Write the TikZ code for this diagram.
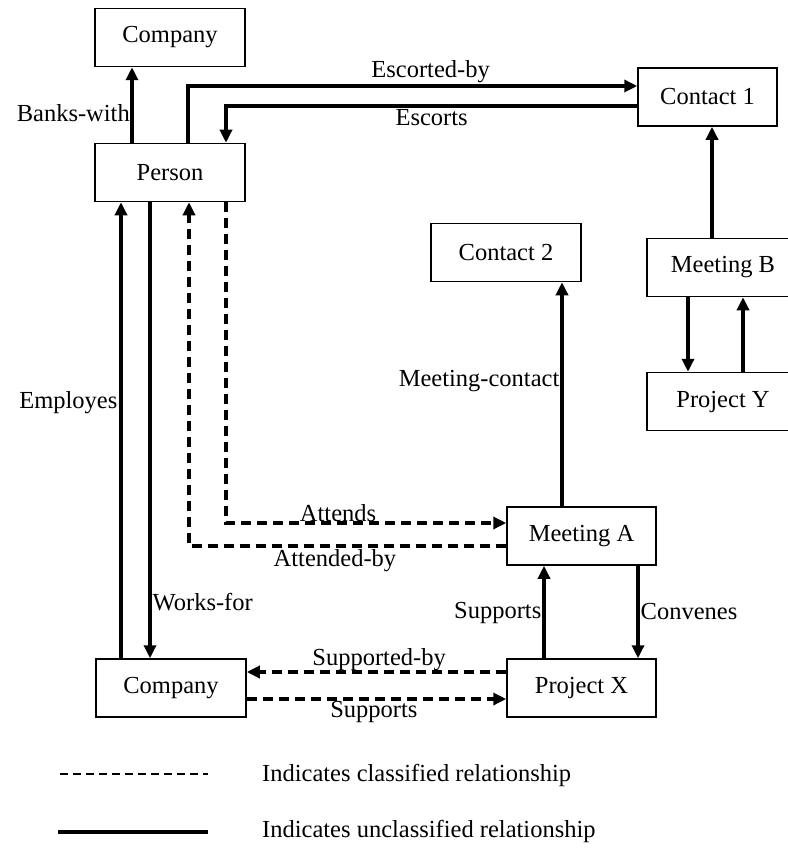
\documentclass[tikz,border=0pt]{standalone}
\usepackage{fontspec}
\setmainfont{Liberation Serif}
\usetikzlibrary{arrows.meta}
\newcommand\diagfont{\fontsize{24.5}{28}\selectfont}
\begin{document}
\begin{tikzpicture}[x=1pt,y=-1pt,
  box/.style={draw, line width=1.5pt, minimum width=#1, minimum height=58pt,
    inner sep=0pt, font=\diagfont},
  box/.default=150pt,
  tip/.style={-{Triangle[length=13pt,width=12pt]}},
  rel/.style={line width=3.4pt, tip},
  cls/.style={line width=3.4pt, dash pattern=on 10pt off 6pt, tip},
  lab/.style={font=\diagfont, inner sep=2pt},
]
\useasboundingbox (0,0) rectangle (787,848);

% entities
\node[box] (company1) at (170,37.5) {Company};
\node[box] (person)   at (170,172.5) {Person};
\node[box=139pt] (contact1) at (707.5,97) {Contact 1};
\node[box] (contact2) at (506,252.5) {Contact 2};
\node[box=152pt] (meetingB) at (723,267.5) {Meeting B};
\node[box=152pt] (projectY) at (723,401.5) {Project Y};
\node[box=149pt] (meetingA) at (581.5,536) {Meeting A};
\node[box=149pt] (projectX) at (581.5,688) {Project X};
\node[box] (company2) at (171,688) {Company};

% unclassified relationships
\draw[rel] ([xshift=-38pt]person.north) -- ([xshift=-38pt]person.north |- company1.south)
  node[lab, pos=0.39, anchor=east, inner sep=0.5pt] {Banks-with};
\draw[rel] ([xshift=18pt]person.north) |- ([yshift=11pt]contact1.west)
  node[lab, pos=0.77, above=0pt] {Escorted-by};
\draw[rel] ([yshift=-9pt]contact1.west) -| ([xshift=56pt]person.north)
  node[lab, pos=0.25, below=0pt] {Escorts};
\draw[rel] ([xshift=-11pt]meetingB.north) -- ([xshift=-11pt]meetingB.north |- contact1.south);
\draw[rel] ([xshift=-35pt]meetingB.south) -- ([xshift=-35pt]projectY.north);
\draw[rel] ([xshift=20pt]projectY.north) -- ([xshift=20pt]meetingB.south);
\draw[rel] ([xshift=-19.5pt]meetingA.north) -- ([xshift=-19.5pt]meetingA.north |- contact2.south)
  node[lab, pos=0.56, anchor=east, inner sep=1pt] {Meeting-contact};
\draw[rel] ([xshift=-20pt]person.south) -- ([xshift=-20pt]person.south |- company2.north)
  node[lab, pos=0.877, anchor=west, inner sep=1pt] {Works-for};
\draw[rel] ([xshift=-50pt]company2.north) -- ([xshift=-50pt]company2.north |- person.south)
  node[lab, pos=0.56, anchor=east, inner sep=2pt] {Employes};
\draw[rel] ([xshift=-37.5pt]projectX.north) -- ([xshift=-37.5pt]meetingA.south)
  node[lab, pos=0.49, anchor=east, inner sep=1pt] {Supports};
\draw[rel] ([xshift=56.5pt]meetingA.south) -- ([xshift=56.5pt]projectX.north)
  node[lab, pos=0.5, anchor=west, inner sep=1pt] {Convenes};

% classified relationships
\draw[cls] ([yshift=-10pt]meetingA.west) -| ([xshift=19pt]person.south)
  node[lab, pos=0.27, below=0pt] {Attended-by};
\draw[cls] ([xshift=56pt]person.south) |- ([yshift=13pt]meetingA.west)
  node[lab, pos=0.70, above=-2pt] {Attends};
\draw[cls] ([yshift=16pt]projectX.west) -- ([yshift=16pt]company2.east)
  node[lab, pos=0.49, above=-2pt] {Supported-by};
\draw[cls] ([yshift=-11pt]company2.east) -- ([yshift=-11pt]projectX.west)
  node[lab, pos=0.49, below=-1pt] {Supports};

% key
\coordinate (keyDashA) at (60,774);
\coordinate (keyDashB) at (208,774);
\coordinate (keySolidA) at (58,832);
\coordinate (keySolidB) at (208,832);
\draw[line width=2.8pt, dash pattern=on 8pt off 5pt] (keyDashA) -- (keyDashB);
\draw[line width=3.4pt] (keySolidA) -- (keySolidB);
\node[lab, anchor=west, inner sep=0pt] (keyDashText) at (262,775) {Indicates classified relationship};
\node[lab, anchor=west, inner sep=0pt] (keySolidText) at (262,831) {Indicates unclassified relationship};
\end{tikzpicture}
\end{document}
